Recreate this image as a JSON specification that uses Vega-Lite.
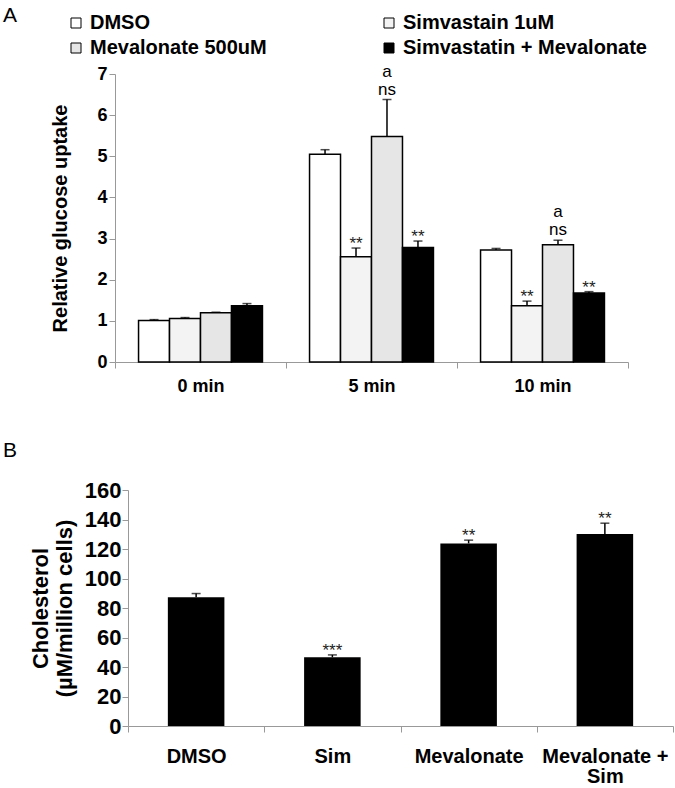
{
  "$schema": "https://vega.github.io/schema/vega-lite/v6.json",
  "background": "white",
  "padding": {"left": 3, "top": 4, "right": 0, "bottom": 0},
  "align": "none",
  "spacing": 45,
  "config": {
    "font": "Liberation Sans",
    "view": {"stroke": null},
    "axis": {"grid": false, "domainColor": "#999999", "tickColor": "#999999", "tickSize": 6, "labelColor": "black", "titleColor": "black", "labelFont": "Liberation Sans", "titleFont": "Liberation Sans", "labelOverlap": false},
    "title": {"font": "Liberation Sans", "color": "black", "fontWeight": "normal"}
  },
  "datasets": {
    "glucose": [
      {"time": "0 min", "treatment": "DMSO", "value": 1.01, "upper": 1.03},
      {"time": "0 min", "treatment": "Simvastain 1uM", "value": 1.06, "upper": 1.08},
      {"time": "0 min", "treatment": "Mevalonate 500uM", "value": 1.2, "upper": 1.21},
      {"time": "0 min", "treatment": "Simvastatin + Mevalonate", "value": 1.37, "upper": 1.42},
      {"time": "5 min", "treatment": "DMSO", "value": 5.05, "upper": 5.16},
      {"time": "5 min", "treatment": "Simvastain 1uM", "value": 2.56, "upper": 2.77},
      {"time": "5 min", "treatment": "Mevalonate 500uM", "value": 5.48, "upper": 6.38},
      {"time": "5 min", "treatment": "Simvastatin + Mevalonate", "value": 2.78, "upper": 2.94},
      {"time": "10 min", "treatment": "DMSO", "value": 2.72, "upper": 2.76},
      {"time": "10 min", "treatment": "Simvastain 1uM", "value": 1.37, "upper": 1.48},
      {"time": "10 min", "treatment": "Mevalonate 500uM", "value": 2.85, "upper": 2.96},
      {"time": "10 min", "treatment": "Simvastatin + Mevalonate", "value": 1.68, "upper": 1.71}
    ],
    "glucoseStars": [
      {"time": "5 min", "treatment": "Simvastain 1uM", "upper": 2.77, "note": "**"},
      {"time": "5 min", "treatment": "Simvastatin + Mevalonate", "upper": 2.94, "note": "**"},
      {"time": "10 min", "treatment": "Simvastain 1uM", "upper": 1.48, "note": "**"},
      {"time": "10 min", "treatment": "Simvastatin + Mevalonate", "upper": 1.71, "note": "**"}
    ],
    "glucoseNs": [
      {"time": "5 min", "treatment": "Mevalonate 500uM", "upper": 6.38, "note": ["a", "ns"]},
      {"time": "10 min", "treatment": "Mevalonate 500uM", "upper": 2.96, "note": ["a", "ns"]}
    ],
    "chol": [
      {"group": "DMSO", "value": 87.3, "upper": 89.8},
      {"group": "Sim", "value": 46.6, "upper": 48.2},
      {"group": "Mevalonate", "value": 123.8, "upper": 126.0},
      {"group": "Mevalonate + Sim", "value": 130.1, "upper": 137.5}
    ],
    "cholStars": [
      {"group": "Sim", "upper": 48.2, "note": "***"},
      {"group": "Mevalonate", "upper": 126.0, "note": "**"},
      {"group": "Mevalonate + Sim", "upper": 137.5, "note": "**"}
    ]
  },
  "vconcat": [
    {
      "width": 513,
      "height": 288,
      "title": {"text": "A", "anchor": "start", "frame": "group", "dx": -112, "dy": -20, "offset": 0, "fontSize": 21, "baseline": "alphabetic"},
      "encoding": {
        "x": {"field": "time", "type": "nominal", "sort": ["0 min", "5 min", "10 min"],
              "scale": {"paddingInner": 0, "paddingOuter": 0},
              "axis": {"title": null, "tickBand": "extent", "labelAngle": 0, "labelFontSize": 18, "labelFontWeight": "bold", "labelPadding": 9}},
        "xOffset": {"field": "treatment", "type": "nominal",
                    "sort": ["DMSO", "Simvastain 1uM", "Mevalonate 500uM", "Simvastatin + Mevalonate"],
                    "scale": {"paddingInner": 0, "paddingOuter": 0.76}}
      },
      "layer": [
        {
          "data": {"name": "glucose"},
          "mark": {"type": "bar", "stroke": "black", "strokeWidth": 1.5},
          "encoding": {
            "y": {"field": "value", "type": "quantitative", "scale": {"domain": [0, 7]},
                  "axis": {"title": "Relative glucose uptake", "titleFontSize": 20, "titleFontWeight": "bold", "titlePadding": 26,
                           "values": [0, 1, 2, 3, 4, 5, 6, 7], "labelFontSize": 18, "labelFontWeight": "bold", "labelPadding": 2, "labelOverlap": false}},
            "fill": {"field": "treatment", "type": "nominal",
                     "sort": ["DMSO", "Simvastain 1uM", "Mevalonate 500uM", "Simvastatin + Mevalonate"],
                     "scale": {"domain": ["DMSO", "Simvastain 1uM", "Mevalonate 500uM", "Simvastatin + Mevalonate"],
                               "range": ["#ffffff", "#f3f3f3", "#e6e6e6", "#000000"]},
                     "legend": {"title": null, "orient": "none", "direction": "horizontal", "legendX": -49, "legendY": -61, "columns": 2, "columnPadding": 112,
                                "rowPadding": 5, "padding": 0, "labelFontSize": 20, "labelFontWeight": "bold", "labelColor": "black", "labelOffset": 4, "labelLimit": 400,
                                "symbolType": "square", "symbolSize": 100, "symbolStrokeColor": "black", "symbolStrokeWidth": 1}}
          }
        },
        {
          "data": {"name": "glucose"},
          "mark": {"type": "rule", "color": "black", "strokeWidth": 1.5},
          "encoding": {
            "y": {"field": "value", "type": "quantitative"},
            "y2": {"field": "upper"}
          }
        },
        {
          "data": {"name": "glucose"},
          "mark": {"type": "tick", "color": "black", "thickness": 1.5, "orient": "horizontal"},
          "encoding": {
            "y": {"field": "upper", "type": "quantitative"},
            "size": {"value": 9}
          }
        },
        {
          "data": {"name": "glucoseStars"},
          "mark": {"type": "text", "fontSize": 17, "baseline": "alphabetic", "dy": 1, "color": "#222222"},
          "encoding": {
            "y": {"field": "upper", "type": "quantitative"},
            "text": {"field": "note"}
          }
        },
        {
          "data": {"name": "glucoseNs"},
          "mark": {"type": "text", "fontSize": 17, "baseline": "alphabetic", "dy": -23, "lineHeight": 18, "color": "black"},
          "encoding": {
            "y": {"field": "upper", "type": "quantitative"},
            "text": {"field": "note"}
          }
        }
      ]
    },
    {
      "width": 558,
      "height": 236,
      "title": {"text": "B", "anchor": "start", "frame": "group", "dx": -112, "dy": 20, "offset": 21, "fontSize": 21, "baseline": "alphabetic"},
      "encoding": {
        "x": {"field": "group", "type": "nominal", "sort": ["DMSO", "Sim", "Mevalonate", "Mevalonate + Sim"],
              "scale": {"paddingInner": 0, "paddingOuter": 0, "range": [13, 558]},
              "axis": {"title": null, "tickBand": "extent", "labelAngle": 0, "labelFontSize": 20, "labelFontWeight": "bold",
                       "labelPadding": 14, "labelLineHeight": 20,
                       "labelExpr": "datum.value == 'Mevalonate + Sim' ? ['Mevalonate +', 'Sim'] : datum.value"}}
      },
      "layer": [
        {
          "data": {"name": "chol"},
          "mark": {"type": "bar", "color": "black", "width": {"band": 0.415}},
          "encoding": {
            "y": {"field": "value", "type": "quantitative", "scale": {"domain": [0, 160]},
                  "axis": {"offset": -13, "title": ["Cholesterol", "(µM/million cells)"], "titleFontSize": 22, "titleFontWeight": "bold",
                           "titleLineHeight": 24, "titlePadding": 8, "labelOverlap": false, "labelBound": false, "tickCount": 9,
                           "values": [0, 20, 40, 60, 80, 100, 120, 140, 160], "labelFontSize": 22, "labelFontWeight": "bold", "labelPadding": 1}}
          }
        },
        {
          "data": {"name": "chol"},
          "mark": {"type": "rule", "color": "black", "strokeWidth": 1.5},
          "encoding": {
            "y": {"field": "value", "type": "quantitative"},
            "y2": {"field": "upper"}
          }
        },
        {
          "data": {"name": "chol"},
          "mark": {"type": "tick", "color": "black", "thickness": 1.5, "orient": "horizontal"},
          "encoding": {
            "y": {"field": "upper", "type": "quantitative"},
            "size": {"value": 9}
          }
        },
        {
          "data": {"name": "cholStars"},
          "mark": {"type": "text", "fontSize": 17, "baseline": "alphabetic", "dy": 1, "color": "#222222"},
          "encoding": {
            "y": {"field": "upper", "type": "quantitative"},
            "text": {"field": "note"}
          }
        }
      ]
    }
  ]
}
